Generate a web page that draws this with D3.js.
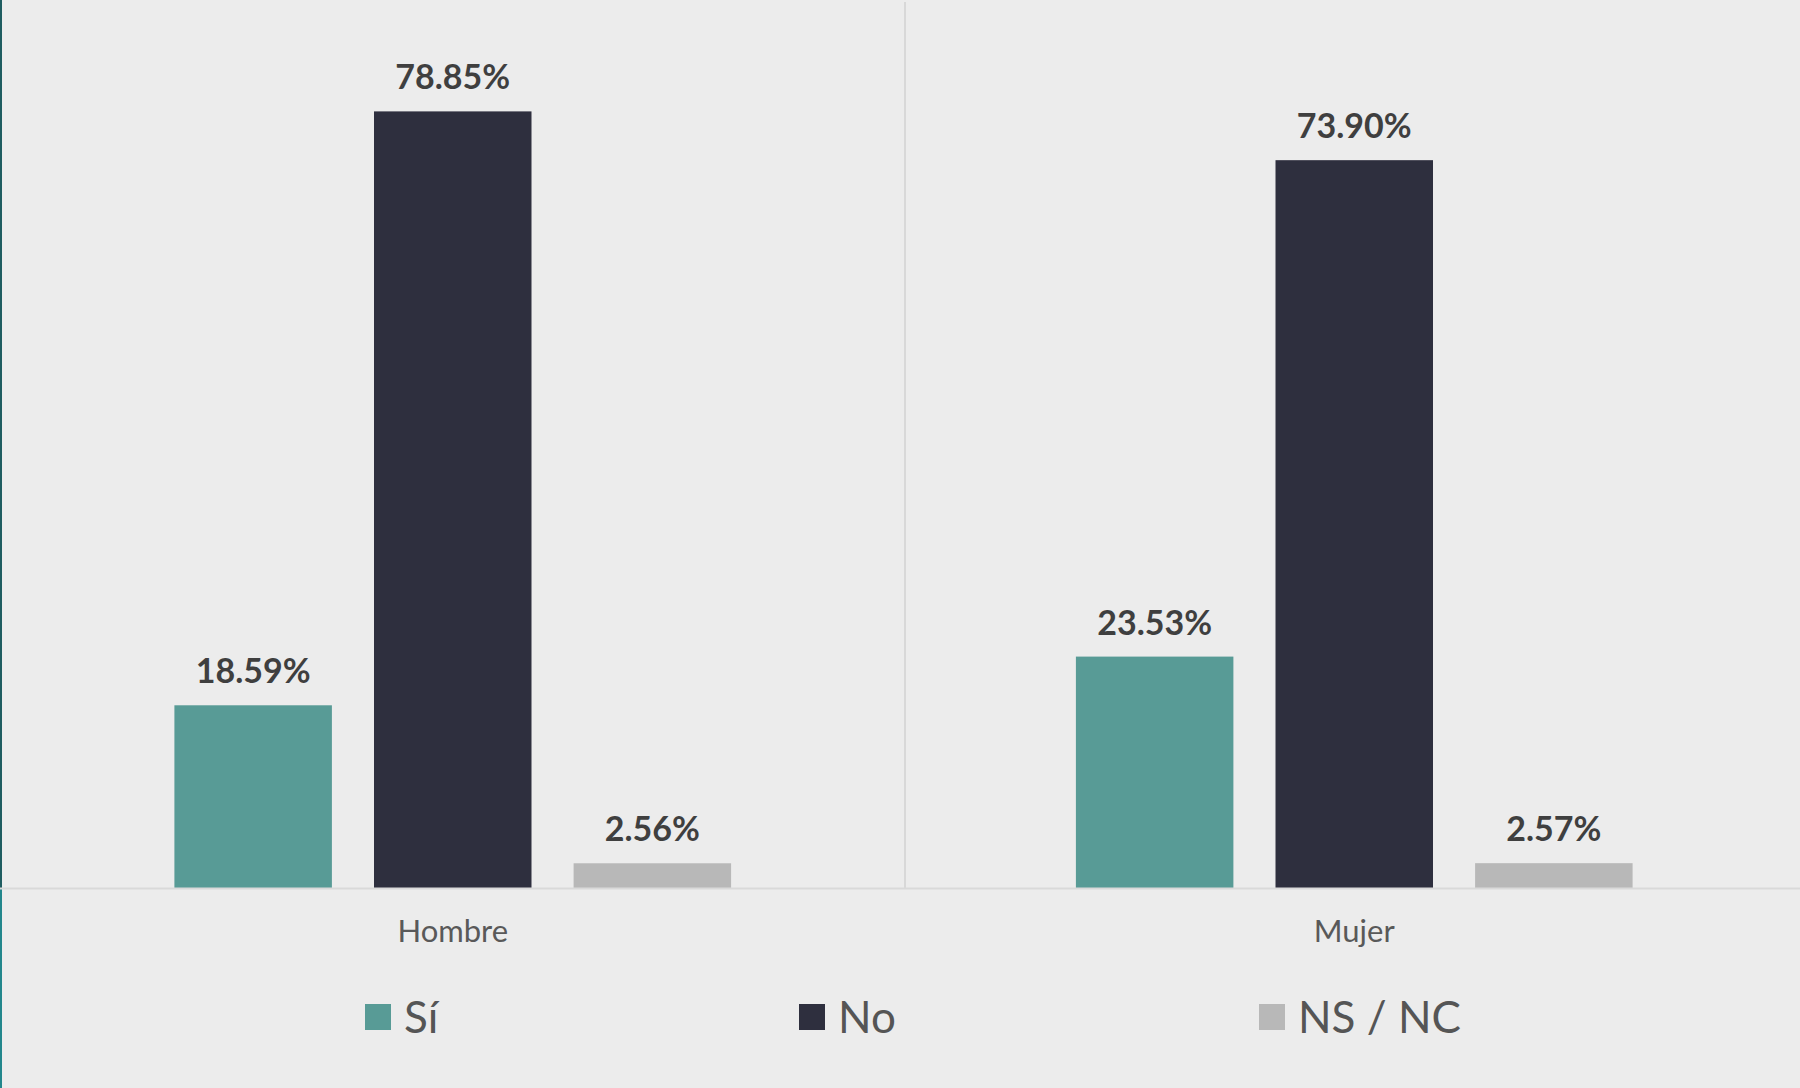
<!DOCTYPE html>
<html>
<head>
<meta charset="utf-8">
<script src="https://cdn.jsdelivr.net/npm/d3@7"></script>
<style>
  html, body { margin: 0; padding: 0; background: #ececec; }
  svg { display: block; }
</style>
</head>
<body>
<svg id="chart" width="1800" height="1088"></svg>
<script>
const categories = ["Hombre", "Mujer"];
const seriesNames = ["Sí", "No", "NS / NC"];
const valuesSi = [18.59, 23.53];
const valuesNo = [78.85, 73.90];
const valuesNsnc = [2.56, 2.57];
const seriesColors = ["#589b96", "#2e2f3e", "#b8b8b8"];

const seriesValues = [valuesSi, valuesNo, valuesNsnc];
const W = 1800, H = 1088;
const svg = d3.select("#chart");

svg.append("rect").attr("width", W).attr("height", H).attr("fill", "#ececec");

const plotTop = 1.5, plotBottom = 888.5, plotLeft = 2, plotRight = 1805;

const x0 = d3.scaleBand().domain(categories).range([plotLeft, plotRight]).padding(0);
const bw = x0.bandwidth();
const off = 172.4;
const x1 = d3.scaleBand().domain(seriesNames).range([off, bw - off]).paddingInner(0.211).paddingOuter(0);
const y = d3.scaleLinear().domain([0, 90]).range([plotBottom, plotTop]);

// divider between categories
svg.append("line")
  .attr("x1", x0("Mujer") + 1.5).attr("x2", x0("Mujer") + 1.5)
  .attr("y1", 2).attr("y2", plotBottom)
  .attr("stroke", "#d8d8d8").attr("stroke-width", 2);

// left edge
svg.append("line").attr("x1", 1).attr("x2", 1).attr("y1", 0).attr("y2", plotBottom)
  .attr("stroke", "#1f5d61").attr("stroke-width", 2);
svg.append("line").attr("x1", 1).attr("x2", 1).attr("y1", plotBottom).attr("y2", H)
  .attr("stroke", "#23878c").attr("stroke-width", 2);

const data = [];
categories.forEach((c, i) => {
  seriesNames.forEach((s, j) => {
    data.push({ cat: c, series: s, value: seriesValues[j][i], color: seriesColors[j] });
  });
});

const g = svg.append("g");
g.selectAll("rect.bar").data(data).enter().append("rect")
  .attr("class", "bar")
  .attr("x", d => x0(d.cat) + x1(d.series))
  .attr("width", x1.bandwidth())
  .attr("y", d => y(d.value))
  .attr("height", d => y(0) - y(d.value))
  .attr("fill", d => d.color);

g.selectAll("text.val").data(data).enter().append("text")
  .attr("class", "val")
  .attr("x", d => x0(d.cat) + x1(d.series) + x1.bandwidth() / 2)
  .attr("y", d => y(d.value) - 22)
  .attr("text-anchor", "middle")
  .attr("font-family", "Lato, 'Open Sans', sans-serif")
  .attr("font-weight", "bold")
  .attr("font-size", 34)
  .attr("fill", "#3f3f3f")
  .text(d => d.value.toFixed(2) + "%");

// baseline axis
const axis = d3.axisBottom(x0).tickSize(0).tickPadding(31);
const ax = svg.append("g").attr("transform", `translate(0,${plotBottom})`).call(axis);
ax.select(".domain").attr("stroke", "#d9d9d9").attr("stroke-width", 2)
  .attr("d", `M0,0H${W}`);
ax.selectAll("text")
  .attr("font-family", "Lato, 'Open Sans', sans-serif")
  .attr("font-size", 31)
  .attr("fill", "#595959");

// legend
const legendX = [365, 799, 1259];
const legend = svg.append("g").selectAll("g").data(seriesNames).enter().append("g")
  .attr("transform", (d, i) => `translate(${legendX[i]},1004)`);
legend.append("rect").attr("width", 26).attr("height", 26)
  .attr("fill", (d, i) => seriesColors[i]);
legend.append("text").attr("x", 39).attr("y", 13).attr("dy", "0.36em")
  .attr("font-family", "Lato, 'Open Sans', sans-serif")
  .attr("font-size", 44)
  .attr("fill", "#555555")
  .text(d => d);
</script>
</body>
</html>
